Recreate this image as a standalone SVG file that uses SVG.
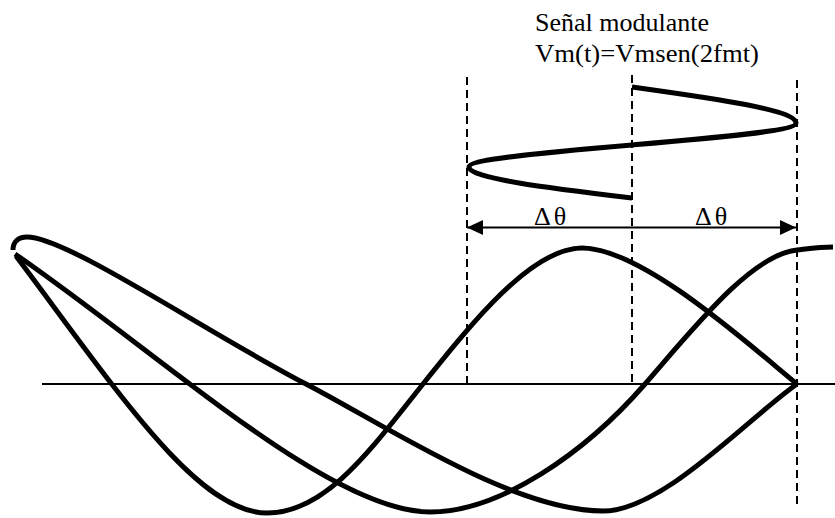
<svg xmlns="http://www.w3.org/2000/svg" width="835" height="518" viewBox="0 0 835 518">
  <style>
    .wave { fill: none; stroke: #000; stroke-width: 5; stroke-linecap: butt; stroke-linejoin: round; }
    .dash { fill: none; stroke: #000; stroke-width: 2; stroke-dasharray: 8 5; }
    .axis { fill: none; stroke: #000; stroke-width: 2; }
  </style>
  <defs>
    <marker id="ah" viewBox="0 0 16 15" refX="16" refY="7.5" markerWidth="16" markerHeight="15" markerUnits="userSpaceOnUse" orient="auto-start-reverse">
      <path d="M0,0 L16,7.5 L0,15 z" fill="#000"/>
    </marker>
  </defs>

  <rect width="835" height="518" fill="#fff"/>

  <g id="title" font-family="'Liberation Serif', 'Times New Roman', serif" fill="#000">
    <text x="535" y="31" font-size="26">Señal modulante</text>
    <text x="535" y="62" font-size="26" textLength="224" lengthAdjust="spacingAndGlyphs">Vm(t)=Vmsen(2fmt)</text>
  </g>

  <g id="guides">
    <line class="dash" x1="467" y1="77" x2="467" y2="384"/>
    <line class="dash" x1="632" y1="75" x2="632" y2="384"/>
    <line class="dash" x1="797" y1="80" x2="797" y2="508"/>
  </g>

  <g id="axis">
    <line class="axis" x1="42" y1="384" x2="835" y2="384"/>
  </g>

  <g id="modulante">
    <path class="wave" d="M632,87 C716,98.7 796,110 796,123 C796,131 716,137.8 632,145 C548,152.2 469,159 469,167 C469,178.2 548,187.9 632,198"/>
  </g>

  <g id="delta">
    <line x1="467" y1="227.5" x2="796" y2="227.5" stroke="#000" stroke-width="2" marker-start="url(#ah)" marker-end="url(#ah)"/>
    <g font-family="'Liberation Serif', 'Times New Roman', serif" font-size="26" fill="#000" text-anchor="middle">
      <text x="550" y="225">Δ<tspan dx="3">θ</tspan></text>
      <text x="711" y="225">Δ<tspan dx="3">θ</tspan></text>
    </g>
  </g>

  <g id="carriers">
    <path id="wave1" class="wave" d="M16,256 C116,389 197,513 267,513 C327,513 373,446.5 423,384 C473,321.5 532,248 582,248 C642,248 747,343 797,384"/>
    <path id="wave2" class="wave" d="M15,254 C165,357.5 330,512 430,512 C500,512 585,453 645,384 C695,326.5 752,254.5 797,250 C810,248.5 820,247 833,247"/>
    <path id="wave3" class="wave" d="M13,250 C13,242 18,237 27,237 C67,237 206,332 306,384 C386,425.6 513,511 603,511 C663,511 747,419 797,384"/>
  </g>
</svg>
